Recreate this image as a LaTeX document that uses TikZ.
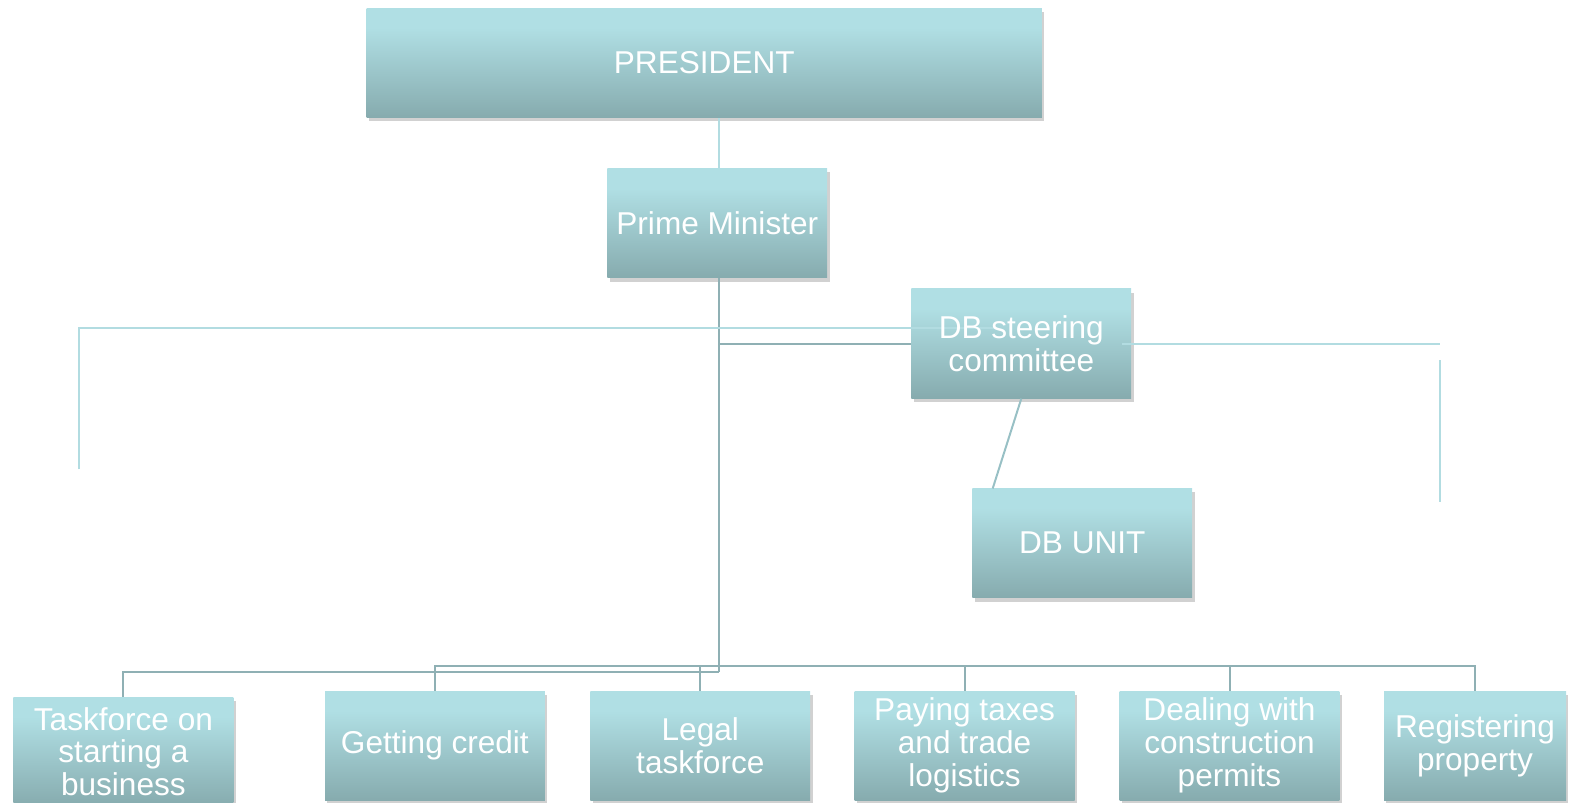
\documentclass[tikz,border=0pt]{standalone}
\usepackage{fontspec}
\setmainfont{Liberation Sans}
\usetikzlibrary{shadows}
\definecolor{boxtop}{RGB}{176,223,228}
\definecolor{boxbot}{RGB}{134,171,174}
\definecolor{lightln}{RGB}{178,220,225}
\definecolor{darkln}{RGB}{143,176,180}
\definecolor{midln}{RGB}{152,192,197}
\pgfdeclareverticalshading{boxshade}{100bp}{color(0bp)=(boxbot); color(25bp)=(boxbot); color(66bp)=(boxtop); color(100bp)=(boxtop)}
\begin{document}
\begin{tikzpicture}[x=0.5bp,y=-0.5bp,
  orgbox/.style={shade, shading=boxshade, draw=none, minimum height=54.7bp, minimum width=109.9bp,
    inner sep=0pt, drop shadow={shadow xshift=1.2pt, shadow yshift=-2pt, opacity=0.3, fill=black!60},
    text=white, align=center, font=\fontsize{15.85}{16.55}\selectfont},
  lbl/.style={text=white, align=center, inner sep=0pt, font=\fontsize{15.85}{16.55}\selectfont},
  lightline/.style={draw=lightln, line width=1pt},
  darkline/.style={draw=darkln, line width=1pt},
  midline/.style={draw=midln, line width=1pt}]
\useasboundingbox (0,0) rectangle (1573,802);

% boxes
\node[orgbox, minimum width=337.6bp] (pres) at (704.3,62.7) {PRESIDENT};
\node[orgbox] (pm) at (717.3,223.2) {Prime Minister};
\node[orgbox] (dbsc) at (1021.3,343.5) {};
\node[orgbox] (dbu) at (1082.3,543.1) {DB UNIT};
\node[orgbox] (t1) at (123.4,751.7) {Taskforce on\\starting a\\business};
\node[orgbox] (t2) at (434.9,745.7) {Getting credit};
\node[orgbox] (t3) at (700.3,745.7) {Legal\\taskforce};
\node[orgbox] (t4) at (964.6,745.7) {Paying taxes\\and trade\\logistics};
\node[orgbox] (t5) at (1229.5,745.7) {Dealing with\\construction\\permits};
\node[orgbox, minimum width=91bp] (t6) at (1475,745.7) {Registering\\property};

% named points
\coordinate (lowbus) at (718.8,672);
\coordinate (upbus) at (0,666);
\coordinate (dbuin) at (992.7,488.5);
\coordinate (lbbot) at (78.7,469.4);
\coordinate (lbcorner) at (78.7,328);
\coordinate (lbend) at (996.7,328);
\coordinate (rbstart) at (1122.2,344);
\coordinate (rbend) at (1440,344);
\coordinate (rvtop) at (1440,360);
\coordinate (rvbot) at (1440,501.5);
\coordinate (pmtrunk) at (718.8,278);

% connectors
\draw[lightline] (pmtrunk |- pres.south) -- (pmtrunk |- pm.north);
\draw[darkline] (pmtrunk) -- (lowbus);
\draw[darkline] (pmtrunk |- dbsc.west) -- (dbsc.west);
\draw[midline] (dbsc.south) -- (dbuin);
\draw[darkline] (t1.north) -- (t1.north |- lowbus) -- (lowbus);
\draw[darkline] (t2.north) -- (t2.north |- upbus) -- (t6.north |- upbus) -- (t6.north);
\foreach \n in {t3,t4,t5} \draw[darkline] (\n.north) -- (\n.north |- upbus);

% light brackets
\draw[lightline] (lbbot) -- (lbcorner) -- (lbend);
\draw[lightline] (rbstart) -- (rbend);
\draw[lightline] (rvtop) -- (rvbot);

\node[lbl] (dbsctext) at (dbsc.center) {DB steering\\committee};
\end{tikzpicture}
\end{document}
